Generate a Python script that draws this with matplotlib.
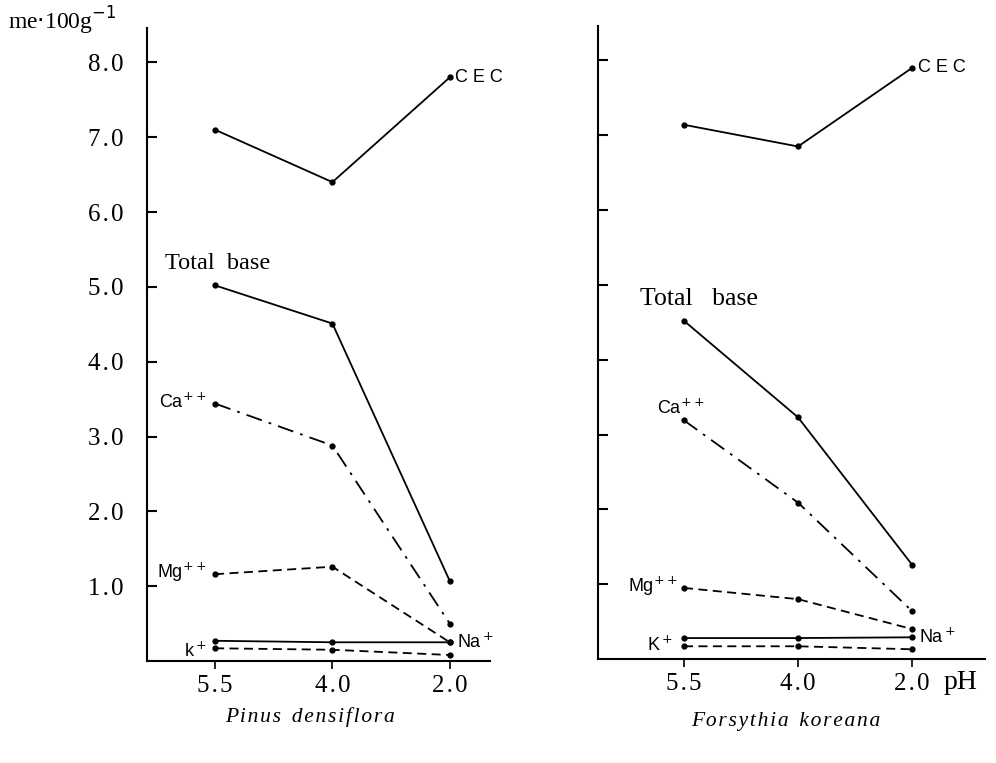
import numpy as np
import matplotlib
matplotlib.use('Agg')
from matplotlib import pyplot as plt

# pH treatments (plotted as equally spaced categories)
ph_labels = ['5.5', '4.0', '2.0']
x = np.arange(len(ph_labels))

# Pinus densiflora, me/100g
pinus_cec = [7.10, 6.40, 7.80]
pinus_total = [5.02, 4.51, 1.07]
pinus_ca = [3.44, 2.88, 0.50]
pinus_mg = [1.16, 1.26, 0.25]
pinus_na = [0.27, 0.25, 0.25]
pinus_k = [0.17, 0.15, 0.08]

# Forsythia koreana, me/100g
forsy_cec = [7.14, 6.85, 7.90]
forsy_total = [4.52, 3.23, 1.26]
forsy_ca = [3.19, 2.09, 0.64]
forsy_mg = [0.95, 0.80, 0.40]
forsy_na = [0.28, 0.28, 0.29]
forsy_k = [0.17, 0.17, 0.13]

yticks = [1.0, 2.0, 3.0, 4.0, 5.0, 6.0, 7.0, 8.0]

SERIF = 'Liberation Serif'
SANS = 'Liberation Sans'

fig = plt.figure(figsize=(9.96, 7.63), dpi=100)
ax1 = fig.add_axes([0.1476, 0.1337, 0.344, 0.8296])
ax2 = fig.add_axes([0.6004, 0.1363, 0.3886, 0.8296])

lw = 1.3
dashdot = (0, (9, 4, 1.5, 4))
dashed = (0, (5, 3))


def spaced(s):
    # slight letter spacing like the typewritten original
    return '\u200a'.join(s)


def draw(ax, cec, total, ca, mg, na, k):
    kw = dict(color='black', lw=lw, marker='o', ms=3.5)
    ax.plot(x, cec, ls='-', **kw)
    ax.plot(x, total, ls='-', **kw)
    ax.plot(x, ca, ls=dashdot, **kw)
    ax.plot(x, mg, ls=dashed, **kw)
    ax.plot(x, na, ls='-', **kw)
    ax.plot(x, k, ls=dashed, **kw)
    ax.set_ylim(0, 8.46)
    ax.spines['top'].set_visible(False)
    ax.spines['right'].set_visible(False)
    ax.spines['left'].set_linewidth(1.5)
    ax.spines['bottom'].set_linewidth(1.5)
    ax.set_xticks(x)
    ax.set_xticklabels([spaced(t) for t in ph_labels], fontsize=18, family=SERIF)
    ax.tick_params(axis='x', direction='out', length=6, width=1.2, pad=4)
    ax.set_yticks(yticks)
    ax.tick_params(axis='y', direction='in', length=7, width=1.5)


def lab(ax, xv, yv, s, dx, dy, ha, va, fam=SANS, size=13):
    ax.annotate(s, (xv, yv), xytext=(dx, dy), textcoords='offset points',
                ha=ha, va=va, fontsize=size, family=fam)


draw(ax1, pinus_cec, pinus_total, pinus_ca, pinus_mg, pinus_na, pinus_k)
ax1.set_xlim(-0.58, 2.34)
ax1.set_yticklabels([spaced('%.1f' % v) for v in yticks], fontsize=18, family=SERIF)
ax1.tick_params(axis='y', pad=17)
lab(ax1, 2, pinus_cec[2], 'C E C', 4, 0, 'left', 'center')
lab(ax1, 0, pinus_total[0], 'Total  base', 2, 8, 'center', 'bottom', SERIF, 17.5)
lab(ax1, 0, pinus_ca[0], 'Ca$^{++}$', -6, 1, 'right', 'center')
lab(ax1, 0, pinus_mg[0], 'Mg$^{++}$', -6, 1, 'right', 'center')
lab(ax1, 0, pinus_k[0], 'k$^+$', -6, -2, 'right', 'center')
lab(ax1, 2, pinus_na[2], 'Na$^+$', 5, 0, 'left', 'center')

draw(ax2, forsy_cec, forsy_total, forsy_ca, forsy_mg, forsy_na, forsy_k)
ax2.set_xlim(-0.754, 2.64)
ax2.set_yticklabels([])
lab(ax2, 0, forsy_total[0], 'Total   base', 11, 8, 'center', 'bottom', SERIF, 18.5)
lab(ax2, 2, forsy_cec[2], 'C E C', 4, 0, 'left', 'center')
lab(ax2, 0, forsy_ca[0], 'Ca$^{++}$', -2, 9, 'center', 'center')
lab(ax2, 0, forsy_mg[0], 'Mg$^{++}$', -5, 1, 'right', 'center')
lab(ax2, 0, forsy_k[0], 'K$^+$', -8, 1, 'right', 'center')
lab(ax2, 2, forsy_na[2], 'Na$^+$', 5, 0, 'left', 'center')

# unit label, pH label and species names
fig.text(0.008, 0.972, 'me$\\cdot$100g$^{-1}$', fontsize=17, family=SERIF,
         ha='left', va='center')
fig.text(0.964, 0.105, 'pH', fontsize=20, family=SERIF, ha='center', va='center')
fig.text(0.311, 0.060, spaced('Pinus') + '  ' + spaced('densiflora'), fontsize=15.5,
         family=SERIF, style='italic', ha='center', va='center')
fig.text(0.789, 0.055, spaced('Forsythia') + '  ' + spaced('koreana'), fontsize=15.5,
         family=SERIF, style='italic', ha='center', va='center')

fig.savefig('out.png', dpi=100)
